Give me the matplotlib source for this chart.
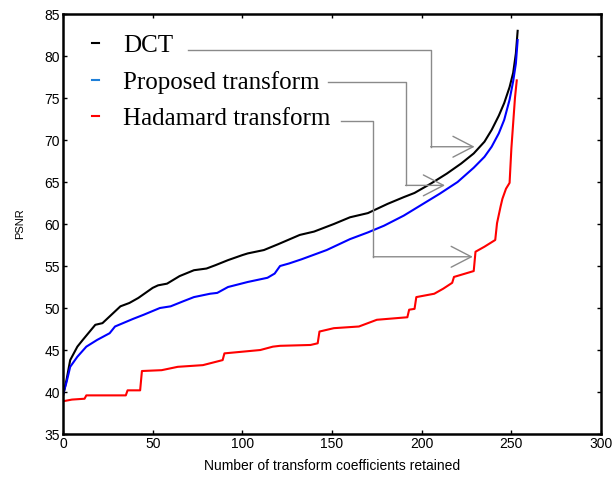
import numpy as np
import matplotlib
matplotlib.use('Agg')
from matplotlib import pyplot as plt

# values
dct_x = [0, 2, 4, 8, 11, 18, 22, 32, 37, 42, 50, 53, 58, 65, 73, 80, 85, 92, 100, 103, 112, 120,
         132, 140, 151, 160, 170, 181, 190, 196, 205, 214, 222, 229, 235, 239, 243, 246, 249, 251, 252.5, 253.5]
dct_y = [39.5, 41.5, 43.8, 45.4, 46.2, 48.0, 48.2, 50.2, 50.6, 51.2, 52.4, 52.7, 52.9, 53.8, 54.5, 54.7, 55.1, 55.7, 56.3, 56.5, 56.9, 57.6,
         58.7, 59.1, 60.0, 60.8, 61.3, 62.4, 63.2, 63.7, 64.8, 66.0, 67.2, 68.4, 69.8, 71.2, 72.9, 74.4, 76.3, 78.0, 80.3, 83.0]

prop_x = [0, 2, 4, 8, 13, 19, 26, 29, 39, 45, 54, 60, 67, 73, 82, 86, 92, 103, 114, 118, 121, 126,
          133, 147, 160, 170, 179, 190, 200, 210, 220, 229, 235, 239, 243, 246, 249, 251, 252.5, 253.5]
prop_y = [39.7, 41.2, 43.0, 44.2, 45.4, 46.2, 47.0, 47.8, 48.7, 49.2, 50.0, 50.2, 50.8, 51.3, 51.7, 51.8, 52.5, 53.1, 53.6, 54.1, 55.0, 55.3,
          55.8, 56.9, 58.2, 59.0, 59.8, 61.0, 62.3, 63.6, 65.0, 66.7, 68.0, 69.2, 70.8, 72.4, 74.8, 77.0, 79.1, 81.9]

had_x = [0, 5, 12, 13, 35, 36, 43, 44, 55, 64, 78, 89, 90, 100, 110, 117, 121, 138, 142, 143, 151, 165, 175,
         192, 193, 196, 197, 207, 212, 217, 218, 229, 230, 235, 241, 242, 244, 245, 247, 249, 250, 251, 252, 253]
had_y = [38.9, 39.1, 39.2, 39.6, 39.6, 40.2, 40.2, 42.5, 42.6, 43.0, 43.2, 43.8, 44.6, 44.8, 45.0, 45.4, 45.5, 45.6, 45.8, 47.2, 47.6, 47.8, 48.6,
         48.9, 49.8, 49.9, 51.3, 51.7, 52.3, 53.0, 53.7, 54.4, 56.7, 57.3, 58.1, 60.1, 62.1, 63.0, 64.2, 64.9, 69.0, 72.0, 75.0, 77.1]

series_names = ['DCT', 'Proposed transform', 'Hadamard transform']

fig = plt.figure(figsize=(6.13, 4.8), dpi=100)
ax = fig.add_axes([0.1028, 0.0958, 0.8777, 0.8750])

ax.plot(dct_x, dct_y, color='k', lw=1.5)
ax.plot(prop_x, prop_y, color='b', lw=1.5)
ax.plot(had_x, had_y, color='r', lw=1.5)

ax.set_xlim(0, 300)
ax.set_ylim(35, 85)
ax.set_xticks(np.arange(0, 301, 50))
ax.set_yticks(np.arange(35, 86, 5))
ax.tick_params(direction='in', top=True, right=True, length=3, width=1, labelsize=10, pad=2)
for lab in ax.get_xticklabels() + ax.get_yticklabels():
    lab.set_family('Liberation Sans')
for s in ax.spines.values():
    s.set_linewidth(1.8)

ax.set_xlabel('Number of transform coefficients retained', family='Liberation Sans', fontsize=10, labelpad=6)
ax.set_ylabel('PSNR', family='Liberation Sans', fontsize=8, labelpad=14)

# legend: short dashes with names in a serif face
handles = [plt.Line2D([], [], color=c, lw=1.5) for c in ['k', '#1e7fd8', 'r']]
ax.legend(handles, series_names, loc='upper left', bbox_to_anchor=(0.035, 0.975), frameon=False,
          prop={'family': 'Liberation Serif', 'size': 18}, handlelength=0.3, handletextpad=0.95,
          labelspacing=0.55, borderaxespad=0)

# gray connector arrows from the names to the curves
grey = '#8a8a8a'
connectors = [([69.5, 205, 205], [80.7, 80.7, 69.2], 229.5),
              ([148.0, 191, 191], [76.9, 76.9, 64.6], 213.0),
              ([155.0, 173, 173], [72.3, 72.3, 56.1], 228.5)]
for xs, ys, tip in connectors:
    ax.plot(xs, ys, color=grey, lw=1)
    ax.annotate('', xy=(tip, ys[-1]), xytext=(xs[-1], ys[-1]),
                arrowprops=dict(arrowstyle='->,head_length=1.45,head_width=0.75', color=grey, lw=1,
                                shrinkA=0, shrinkB=0, mutation_scale=10))

plt.savefig('out.png', dpi=100)
